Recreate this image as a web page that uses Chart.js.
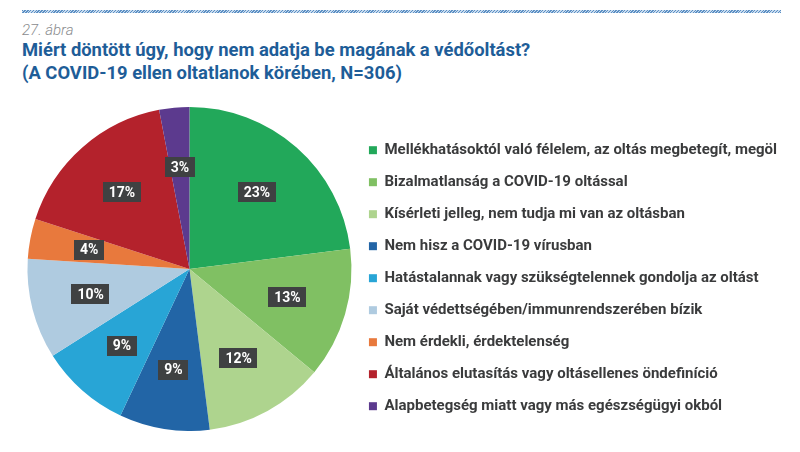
<!DOCTYPE html>
<html>
<head>
<meta charset="utf-8">
<script src="https://cdn.jsdelivr.net/npm/chart.js@4.4.0/dist/chart.umd.min.js"></script>
<style>
  html, body { margin: 0; padding: 0; background: #fff; }
  body { width: 800px; height: 452px; position: relative; overflow: hidden; font-family: Roboto, sans-serif; }
  .stripe { position: absolute; left: 22px; top: 10px; width: 759px; height: 3px;
    background: repeating-linear-gradient(135deg, #5b8fc4 0 1px, #c9dcef 1px 2px); }
  .fig { position: absolute; left: 22px; top: 21px; font-size: 15px; font-style: italic; font-weight: 300; color: #8a8c8e; }
  .title { position: absolute; left: 22px; top: 38px; font-size: 18.4px; font-weight: 700; color: #1e5d98; line-height: 23px; }
  .wrap { position: absolute; left: -18px; top: 107px; width: 805px; height: 324px; }
</style>
</head>
<body>
<div class="stripe"></div>
<div class="fig">27. ábra</div>
<div class="title">Miért döntött úgy, hogy nem adatja be magának a védőoltást?<br>(A COVID-19 ellen oltatlanok körében, N=306)</div>
<div class="wrap"><canvas id="pieChart"></canvas></div>
<script>
// Kategóriák és értékek (%)
const labels = [
    'Mellékhatásoktól való félelem, az oltás megbetegít, megöl',
    'Bizalmatlanság a COVID-19 oltással',
    'Kísérleti jelleg, nem tudja mi van az oltásban',
    'Nem hisz a COVID-19 vírusban',
    'Hatástalannak vagy szükségtelennek gondolja az oltást',
    'Saját védettségében/immunrendszerében bízik',
    'Nem érdekli, érdektelenség',
    'Általános elutasítás vagy oltásellenes öndefiníció',
    'Alapbetegség miatt vagy más egészségügyi okból'
];
const values = [23, 13, 12, 9, 9, 10, 4, 17, 3];
const colors = ['#22a85a', '#80c063', '#aed48e', '#2265a6', '#28a5d6', '#afcbe0', '#e8793d', '#b4222c', '#5c3a8e'];

// Százalék címkék a szeletekre
const sliceLabels = {
    id: 'sliceLabels',
    afterDatasetsDraw(chart) {
        const ctx = chart.ctx;
        const meta = chart.getDatasetMeta(0);
        ctx.save();
        ctx.font = 'bold 14px Roboto, sans-serif';
        ctx.textAlign = 'center';
        ctx.textBaseline = 'middle';
        meta.data.forEach((arc, i) => {
            const p = arc.getProps(['x', 'y', 'startAngle', 'endAngle', 'outerRadius']);
            const mid = (p.startAngle + p.endAngle) / 2;
            const r = p.outerRadius * 0.63;
            const x = p.x + Math.cos(mid) * r;
            const y = p.y + Math.sin(mid) * r;
            const txt = values[i] + '%';
            const w = ctx.measureText(txt).width + 12;
            ctx.fillStyle = '#3f4142';
            ctx.fillRect(Math.round(x - w / 2), Math.round(y - 10), Math.round(w), 20);
            ctx.fillStyle = '#ffffff';
            ctx.fillText(txt, x, y + 1);
        });
        ctx.restore();
    }
};

const pieChart = new Chart(document.getElementById('pieChart'), {
    type: 'pie',
    data: {
        labels: labels,
        datasets: [{
            data: values,
            backgroundColor: colors,
            borderWidth: 0
        }]
    },
    options: {
        responsive: true,
        maintainAspectRatio: false,
        animation: false,
        layout: { padding: { left: 45 } },
        plugins: {
            legend: {
                position: 'right',
                maxWidth: 460,
                title: { display: true, text: ' ', font: { size: 2 }, padding: 8 },
                labels: {
                    color: '#3a3b3c',
                    boxWidth: 8,
                    boxHeight: 8,
                    padding: 17,
                    font: { family: 'Roboto, sans-serif', size: 15, weight: 'bold' }
                }
            },
            tooltip: { enabled: false }
        }
    },
    plugins: [sliceLabels]
});
</script>
</body>
</html>
